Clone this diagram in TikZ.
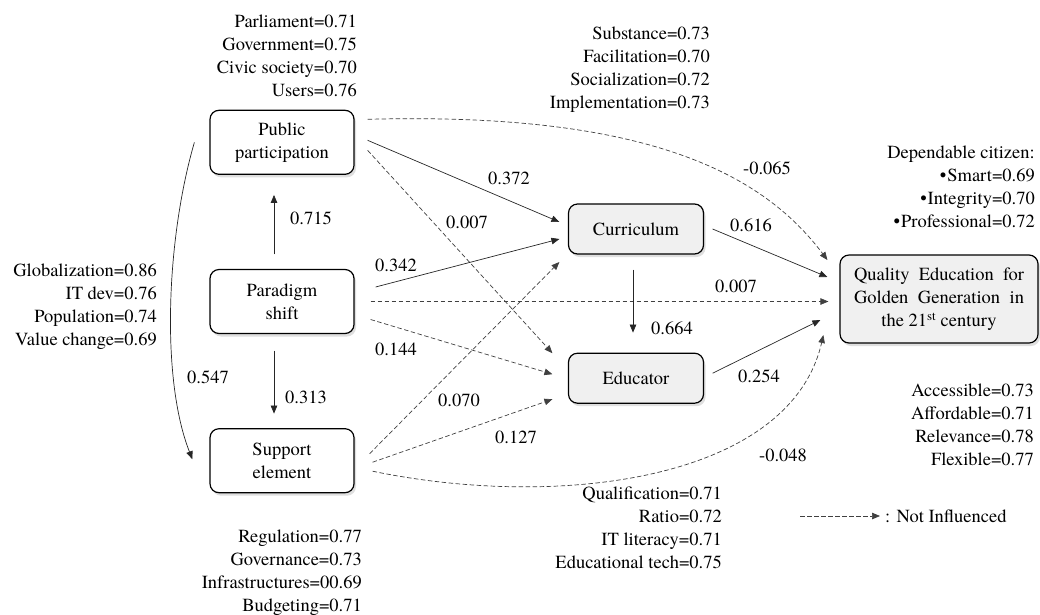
\documentclass[tikz,border=0pt]{standalone}
\usepackage{fontspec}
\setmainfont{texgyretermes}[Extension=.otf, UprightFont=*-regular, BoldFont=*-bold,
  ItalicFont=*-italic, BoldItalicFont=*-bolditalic]
\usetikzlibrary{arrows.meta,positioning,shadows}

\begin{document}
\begin{tikzpicture}[
      x=1pt, y=-1pt,
      font=\fontsize{18.5}{23}\selectfont,
      box/.style={draw, line width=1.2pt, rounded corners=9pt, minimum width=144pt,
                  minimum height=64pt, align=center, fill=white,
                  drop shadow={shadow xshift=2pt, shadow yshift=-3pt, opacity=0.25}},
      gbox/.style={box, fill=gray!12, minimum width=135pt, minimum height=50pt},
      arr/.style={-{Triangle[length=8pt, width=6.5pt]}, line width=0.7pt, draw=black!85},
      darr/.style={arr, draw=black!75, dash pattern=on 4.5pt off 2.5pt},
      lab/.style={inner sep=0pt},
      note/.style={inner sep=0pt, align=right, anchor=north east}
    ]
    \useasboundingbox (0,0) rectangle (1040,614);

    \node[box] (para) at (282,301.5) {Paradigm\\shift};
    \node[box, above=94pt of para] (pub)  {Public\\participation};
    \node[box, below=94pt of para] (supp) {Support\\element};
    \node[gbox] (cur) at (636,229) {Curriculum};
    \node[gbox, below=98pt of cur] (edu) {Educator};
    \node[gbox, minimum width=198pt, minimum height=88pt] (qual) at (939,299)
      {\makebox[170pt][s]{Quality Education for}\\\makebox[170pt][s]{Golden Generation in}\\the 21\textsuperscript{st} century};

    \node[note] (pubnote)  at (357,15)   {Parliament=0.71\\Government=0.75\\Civic society=0.70\\Users=0.76};
    \node[note] (curnote)  at (710,27)   {Substance=0.73\\Facilitation=0.70\\Socialization=0.72\\Implementation=0.73};
    \node[note] (paranote) at (157,264)  {Globalization=0.86\\IT dev=0.76\\Population=0.74\\Value change=0.69};
    \node[note] (qualnote) at (1035,146) {Dependable citizen:\\\textbullet\kern1pt Smart=0.69\\\textbullet\kern1pt Integrity=0.70\\\textbullet\kern1pt Professional=0.72};
    \node[note] (accnote)  at (1034,384) {Accessible=0.73\\Affordable=0.71\\Relevance=0.78\\Flexible=0.77};
    \node[note] (edunote)  at (722,487)  {Qualification=0.71\\Ratio=0.72\\IT literacy=0.71\\Educational tech=0.75};
    \node[note] (suppnote) at (362,530)  {Regulation=0.77\\Governance=0.73\\Infrastructures=00.69\\Budgeting=0.71};

    \draw[arr] ([shift={(-8,-14.5)}]para.north) -- ([shift={(-8,20)}]pub.south);
    \draw[arr] ([shift={(-8,16.5)}]para.south) -- ([shift={(-8,-14.5)}]supp.north);
    \draw[arr] ([shift={(-15,0)}]pub.west) .. controls (166,240) and (161,380) .. ([shift={(-17,-1.5)}]supp.west);
    \draw[arr] ([shift={(13,-2)}]pub.east) -- ([shift={(-8.5,-7)}]cur.west);
    \draw[darr] ([shift={(13,8)}]pub.east) -- ([shift={(-15.5,-25)}]edu.west);
    \draw[darr] ([shift={(13,-23)}]pub.east) .. controls (640,112) and (760,170) .. ([shift={(-12,-39)}]qual.west);
    \draw[arr] ([shift={(21,-14.5)}]para.east) -- ([shift={(-8.5,10)}]cur.west);
    \draw[darr] ([shift={(16,0)}]para.east) -- ([shift={(-11,2.5)}]qual.west);
    \draw[darr] ([shift={(16,18)}]para.east) -- ([shift={(-15.5,-4)}]edu.west);
    \draw[arr] ([shift={(8.5,0)}]cur.east) -- ([shift={(-12,-22)}]qual.west);
    \draw[arr] ([shift={(-3,15)}]cur.south) -- ([shift={(-3,-20)}]edu.north);
    \draw[arr] ([shift={(8.5,-5)}]edu.east) -- ([shift={(-19,21)}]qual.west);
    \draw[darr] ([shift={(15,-7)}]supp.east) -- ([shift={(-8.5,33)}]cur.west);
    \draw[darr] ([shift={(18,1.5)}]supp.east) -- ([shift={(-15.5,21)}]edu.west);
    \draw[darr] ([shift={(18,10.5)}]supp.east) .. controls (560,510) and (790,480) .. ([shift={(-16,36)}]qual.west);

    \node[lab] (w715) at (311,218) {0.715};
    \node[lab] (w313) at (306,397) {0.313};
    \node[lab] (w547) at (208,377) {0.547};
    \node[lab] (w372) at (509,178) {0.372};
    \node[lab] (w007a) at (467,222) {0.007};
    \node[lab] (w342) at (396,265) {0.342};
    \node[lab] (w144) at (396,349) {0.144};
    \node[lab] (w070) at (459,400) {0.070};
    \node[lab] (w127) at (516,437) {0.127};
    \node[lab] (w664) at (672,328) {0.664};
    \node[lab] (w065) at (767,168) {-0.065};
    \node[lab] (w616) at (751,225) {0.616};
    \node[lab] (w007b) at (736,286) {0.007};
    \node[lab] (w254) at (759,376) {0.254};
    \node[lab] (w048) at (783,455) {-0.048};

    \coordinate (legA) at (800,516);
    \coordinate (legB) at (880,516);
    \draw[darr] (legA) -- (legB);
    \node[lab, anchor=west] (legtext) at (885,516) {: Not Influenced};
  \end{tikzpicture}
\end{document}
